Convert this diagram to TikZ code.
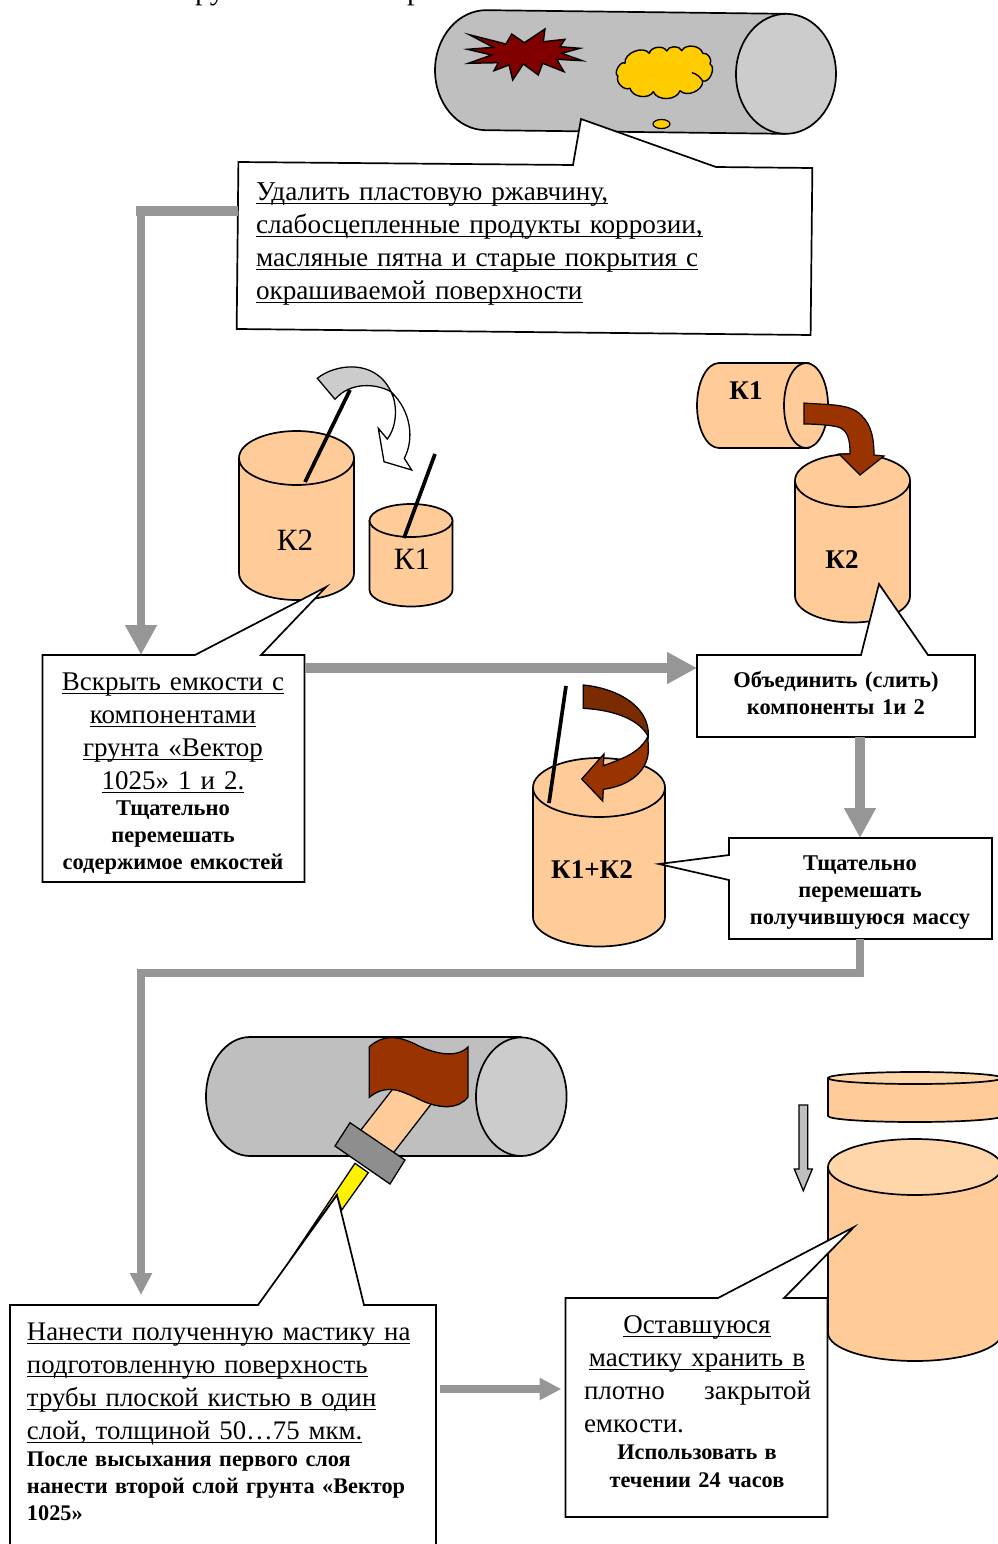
\documentclass[tikz,border=0pt]{standalone}
\usepackage{fontspec}
\setmainfont{Liberation Serif}
\usetikzlibrary{arrows.meta,calc}
\definecolor{peach}{HTML}{FFCC99}
\definecolor{peachlt}{HTML}{FFD5AA}
\definecolor{pipegray}{HTML}{BFBFBF}
\definecolor{pipeend}{HTML}{CCCCCC}
\definecolor{bargray}{HTML}{969696}
\definecolor{rust}{HTML}{993300}
\definecolor{rustdk}{HTML}{7A2C00}
\definecolor{darkred}{HTML}{800000}
\definecolor{gold}{HTML}{FFCC00}
\newcommand{\ulx}[1]{\leavevmode\setbox0=\hbox{#1}\rlap{\raisebox{-4pt}{\rule{\wd0}{1.5pt}}}\box0}
\newcommand{\upcyl}[6]{%
  \filldraw[shape line,fill=peach] (#1-#3,#2) -- (#1-#3,#5) arc[start angle=180,end angle=360,x radius=#3,y radius=#4] -- (#1+#3,#2) -- cycle;
  \filldraw[shape line,fill=#6] (#1,#2) ellipse[x radius=#3,y radius=#4];}
\tikzset{
  shape line/.style={draw=black,line width=1.7pt,line join=round},
  thin shape/.style={draw=black,line width=1.3pt,line join=miter},
  callout/.style={draw=black,fill=white,line width=1.7pt,line join=miter},
  boxspot/.style={rectangle,inner sep=0pt,outer sep=0pt},
  bar/.style={draw=bargray,line width=#1,line join=miter},
  bighead/.style={-{Triangle[length=30pt,width=30pt,color=bargray]}},
  smallhead/.style={-{Triangle[length=22pt,width=21pt,color=bargray]}},
  stick/.style={line width=3.7pt,draw=black},
  reg/.style={inner sep=0pt,outer sep=0pt,anchor=north,align=center,text width=#1,font=\fontsize{27}{33}\selectfont},
  regl/.style={inner sep=0pt,outer sep=0pt,anchor=north west,align=left,text width=#1,font=\fontsize{27}{33}\selectfont},
  bld/.style={inner sep=0pt,outer sep=0pt,anchor=north,align=center,text width=#1,font=\fontsize{22.5}{27}\selectfont\bfseries},
  bldl/.style={inner sep=0pt,outer sep=0pt,anchor=north west,align=left,text width=#1,font=\fontsize{22.3}{27}\selectfont\bfseries},
  labb/.style={inner sep=0pt,font=\fontsize{27}{33}\selectfont\bfseries},
}
\begin{document}
\begin{tikzpicture}[x=1pt,y=1pt]
\useasboundingbox (0,0) rectangle (998,-1544);
\clip (0,0) rectangle (998,-1544);

% clipped heading remnants
\node[inner sep=0pt,anchor=base west,font=\fontsize{30}{33}\selectfont] (headA) at (195,0) {ру};
\node[inner sep=0pt,anchor=base west,font=\fontsize{30}{33}\selectfont] (headB) at (407,0) {р};

% top pipe
\begin{scope}[shift={(636,-72)},rotate=-0.7]
  \filldraw[shape line,fill=pipegray] (-150,60) -- (150,60) -- (150,-60) -- (-150,-60) arc[start angle=270,end angle=90,x radius=51,y radius=60] -- cycle;
  \filldraw[shape line,fill=pipeend] (150,0) ellipse[x radius=50,y radius=60];
\end{scope}
\filldraw[draw=black,line width=1.4pt,fill=darkred,line join=miter]
 (469.3,-34.7)--(506,-44)--(511.7,-34)--(524.3,-42.7)--(545,-29)--(543.3,-41.7)--(565,-39.3)--(560,-46.7)--(580,-48.3)--(561.7,-53.3)--(582.3,-60.7)--(556.7,-59.3)--(564,-71.7)--(542.7,-63.3)--(538.3,-75)--(523.3,-64)--(512.7,-80)--(509,-65)--(494,-70.7)--(498.3,-62.7)--(468.3,-63.3)--(491.7,-55)--(467.3,-49.3)--(493.3,-47.3)--cycle;
\filldraw[draw=black,line width=1.4pt,fill=gold,line join=round]
 (625,-63.3) to[bend left=75] (649.3,-53.3) to[bend left=70] (666.7,-51) to[bend left=70] (681.7,-50.7) to[bend left=70] (702.7,-53.3) to[bend left=70] (710,-64) to[bend left=85] (702.7,-81) to[bend left=70] (680,-90.7) to[bend left=70] (653.3,-91.7) to[bend left=70] (630,-88.3) to[bend left=70] (618,-76) to[bend left=100] (625,-63.3) -- cycle;
\draw[draw=black,line width=1.4pt] (692,-72.7) .. controls (697,-74) and (700,-77) .. (702.7,-81);
\filldraw[draw=black,line width=1.2pt,fill=gold] (661.5,-124) ellipse[x radius=8.5,y radius=4.5];

% callout 1
\node[boxspot,rotate=-0.6,minimum width=574pt,minimum height=167pt] (b1) at (524.5,-248.5) {};
\coordinate (tip1) at (581,-119);
\filldraw[callout] (b1.north west) -- (573,-165) -- (tip1) -- (716,-167) -- (b1.north east) -- (b1.south east) -- (b1.south west) -- cycle;
\node[regl=470pt,font=\fontsize{27.2}{33}\selectfont] (t1) at (256,{-200+0.7*33}) {\strut\ulx{Удалить пластовую ржавчину,}\\\ulx{слабосцепленные продукты коррозии,}\\\ulx{масляные пятна и старые покрытия с}\\\ulx{окрашиваемой поверхности}};

% left cans
\upcyl{296.5}{-458}{57.5}{27}{-573}{peach}
\upcyl{411}{-520.5}{41.5}{16.5}{-590}{peach}
\node[inner sep=0pt,font=\fontsize{31}{33}\selectfont] (k2a) at (295,-540) {К2};
\node[inner sep=0pt,font=\fontsize{31}{33}\selectfont] (k1a) at (412,-559) {К1};
\draw[stick] (350,-390) -- (305,-482);
\draw[stick] (435,-454) -- (404,-538);
% curved lid arrow
\filldraw[thin shape,fill=white]
 (391,-391.7) .. controls (397,-403) and (398,-425) .. (387.3,-439) -- (378.3,-428.3) -- (384,-461.7) -- (411.7,-470) -- (404.3,-458.3)
 .. controls (414,-440) and (412,-412) .. (391,-391.7) -- cycle;
\filldraw[thin shape,fill=pipeend]
 (317.3,-378.3) .. controls (335,-364) and (375,-358) .. (391,-391.7)
 .. controls (375,-383) and (350,-382) .. (335,-399.3) -- cycle;

% right cans
\upcyl{852.5}{-480.5}{57.5}{26.5}{-596}{peach}
\filldraw[shape line,fill=peach] (719,-363) -- (809,-363) -- (809,-448) -- (719,-448) arc[start angle=270,end angle=90,x radius=22,y radius=42.5] -- cycle;
\filldraw[shape line,fill=peach] (806,-405.5) ellipse[x radius=22,y radius=42.5];
\node[labb] (k1b) at (746,-391) {К1};
\node[labb] (k2b) at (842,-560) {К2};
\filldraw[draw=black,line width=1.2pt,fill=rust,line join=miter]
 (804,-403) .. controls (825,-405) and (850,-403) .. (861,-415)
 .. controls (872,-425) and (874,-440) .. (874,-455) -- (884,-456) -- (860,-475) -- (839,-454) -- (850,-454)
 .. controls (850,-440) and (848,-430) .. (838,-427) .. controls (830,-425) and (815,-424) .. (804,-424) -- cycle;

% callout 2
\node[boxspot,minimum width=262pt,minimum height=227pt] (b2) at (173.5,-768.5) {};
\coordinate (tip2) at (326,-587);
\filldraw[callout] (b2.north west) -- (195,-655) -- (tip2) -- (261,-655) -- (b2.north east) -- (b2.south east) -- (b2.south west) -- cycle;
\node[reg=260pt] (t2) at (173,{-690+0.7*33}) {\strut\ulx{Вскрыть емкости с}\\\ulx{компонентами}\\\ulx{грунта «Вектор}\\\ulx{1025» 1 и 2.}};
\node[bld=255pt] (t2b) at (173,{-815+0.7*27}) {\strut Тщательно\\перемешать\\содержимое емкостей};

% callout 3
\node[boxspot,minimum width=278pt,minimum height=82pt] (b3) at (836,-696) {};
\coordinate (tip3) at (879,-584);
\filldraw[callout] (b3.north west) -- (861,-655) -- (tip3) -- (928,-655) -- (b3.north east) -- (b3.south east) -- (b3.south west) -- cycle;
\node[bld=270pt] (t3) at (836,{-687+0.7*27}) {\strut Объединить (слить)\\компоненты 1и 2};

% mixing can
\upcyl{599}{-787.5}{66}{29.5}{-917}{peach}
\node[labb] (k12) at (592,-870) {К1+К2};
\draw[stick] (566,-686) -- (549,-803);
\filldraw[thin shape,fill=rust]
 (647.8,-736.7) .. controls (640,-752) and (625,-758) .. (603.3,-765.7) -- (604,-754) -- (581.7,-779) -- (602.7,-801) -- (603.3,-789.3)
 .. controls (630,-786) and (650,-770) .. (648.3,-746.7) -- cycle;
\filldraw[thin shape,fill=rustdk]
 (583.3,-685) .. controls (615,-688) and (650,-705) .. (648.3,-736.7)
 .. controls (640,-720) and (615,-710) .. (583.3,-708.3) -- cycle;

% callout 4
\node[boxspot,minimum width=263pt,minimum height=101pt] (b4) at (860.5,-888.5) {};
\coordinate (tip4) at (659,-864);
\filldraw[callout] (b4.north west) -- (b4.north east) -- (b4.south east) -- (b4.south west) -- (729,-880) -- (tip4) -- (729,-855) -- cycle;
\node[bld=255pt] (t4) at (860,{-870+0.7*27}) {\strut Тщательно\\перемешать\\получившуюся массу};

% connectors
\coordinate (s1) at ($(b1.north west)!0.293!(b1.south west)$);
\coordinate (c1) at (141,-212);
\draw[bar=10pt] (s1) -- (s1 -| c1) -- ++(0,-5);
\draw[bar=8pt,bighead] (c1) -- (c1 |- b2.north);
\draw[bar=10pt,bighead] (b2.east |- 0,-668) -- (b3.west |- 0,-668);
\draw[bar=10pt,bighead] (860,-737) -- (860,-838);

% bottom pipe
\filldraw[shape line,fill=pipegray] (250,-1037) -- (521,-1037) -- (521,-1156) -- (250,-1156) arc[start angle=270,end angle=90,x radius=44,y radius=59.5] -- cycle;
\filldraw[shape line,fill=pipeend] (521.3,-1096.7) ellipse[x radius=45.3,y radius=59.3];
\filldraw[thin shape,fill=peach] (393.3,-1088.3) -- (431.7,-1103.3) -- (391.7,-1155) -- (358.3,-1133.3) -- cycle;
\filldraw[thin shape,fill=rust]
 (369.3,-1046.7) .. controls (385,-1033) and (400,-1037) .. (415,-1044)
 .. controls (430,-1052) and (455,-1060) .. (468,-1047) -- (468,-1097)
 .. controls (458,-1110) and (440,-1108) .. (425,-1102)
 .. controls (410,-1096) and (390,-1080) .. (369.3,-1097.3) -- cycle;
\filldraw[thin shape,fill=bargray!95!black] (350,-1122.7) -- (405,-1160) -- (390,-1184) -- (335,-1146) -- cycle;
\filldraw[thin shape,fill=yellow] (355,-1163.3) -- (368.3,-1172.7) -- (341.7,-1210) -- (336.7,-1195) -- (290,-1260) -- cycle;

% store can
\upcyl{915}{-1167}{87}{28}{-1333}{peachlt}
\upcyl{915}{-1078}{87}{6}{-1116}{peachlt}
\filldraw[thin shape,fill=pipegray] (799,-1105) -- (807.7,-1105) -- (807.7,-1169) -- (812.3,-1169) -- (803.3,-1190.7) -- (794.3,-1169) -- (799,-1169) -- cycle;

% callout 5
\node[boxspot,minimum width=426pt,minimum height=260pt] (b5) at (223,-1435) {};
\coordinate (tip5) at (337,-1195);
\filldraw[callout] (b5.north west) -- (258,-1305) -- (tip5) -- (364,-1305) -- (b5.north east) -- (b5.south east) -- (b5.south west) -- cycle;
\node[regl=405pt,font=\fontsize{26.8}{33}\selectfont] (t5) at (27,{-1340+0.7*33}) {\strut\ulx{Нанести полученную мастику на}\\\ulx{подготовленную поверхность}\\\ulx{трубы плоской кистью в один}\\\ulx{слой, толщиной 50…75 мкм.}};
\node[bldl=405pt] (t5b) at (27,{-1466+0.7*27}) {\strut После высыхания первого слоя\\нанести второй слой грунта «Вектор\\1025»};

% callout 6
\node[boxspot,minimum width=262pt,minimum height=219pt] (b6) at (696.5,-1407.5) {};
\coordinate (tip6) at (854,-1227);
\filldraw[callout] (b6.north west) -- (718,-1298) -- (tip6) -- (784,-1298) -- (b6.north east) -- (b6.south east) -- (b6.south west) -- cycle;
\node[reg=250pt] (t6) at (697,{-1333+0.7*33}) {\strut\ulx{Оставшуюся}\\\ulx{мастику хранить в}};
\node[regl=227pt] (t6b) at (584,{-1399+0.7*33}) {\strut плотно\hfill закрытой\\емкости.};
\node[bld=240pt,font=\fontsize{22.3}{28}\selectfont\bfseries] (t6c) at (697,{-1459+0.7*28}) {\strut Использовать в\\течении 24 часов};

% lower connectors
\coordinate (c3) at (860,-973);
\coordinate (c4) at (141,-973);
\draw[bar=7.5pt,smallhead] (c3 |- b4.south) -- (c3) -- (c4) -- (141,-1295);
\draw[bar=7.5pt,smallhead] ($(b5.east |- 0,-1389)+(4,0)$) -- ($(b6.west |- 0,-1389)+(-4,0)$);
\end{tikzpicture}
\end{document}
